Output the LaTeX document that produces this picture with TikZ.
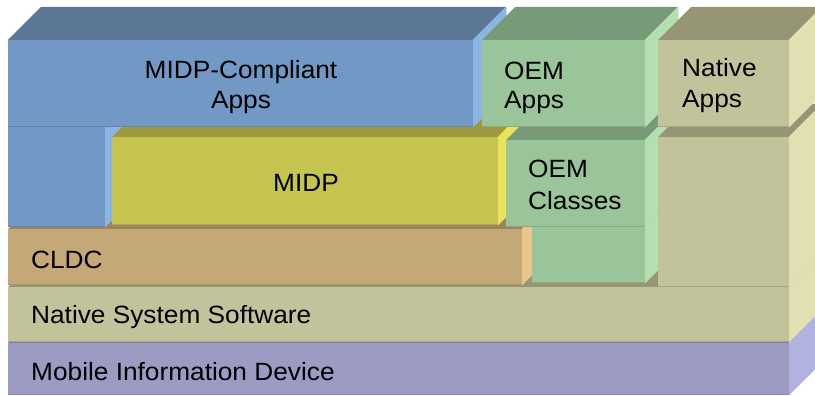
\documentclass[tikz,border=0pt]{standalone}
\usepackage{fontspec}
\setmainfont{Liberation Sans}[FakeStretch=1.05]
\definecolor{bluF}{HTML}{7299C5}\definecolor{bluT}{HTML}{5B7795}\definecolor{bluS}{HTML}{8CB4E1}
\definecolor{grnF}{HTML}{9AC49A}\definecolor{grnT}{HTML}{789A78}\definecolor{grnS}{HTML}{B3DFB3}
\definecolor{khaF}{HTML}{C3C39B}\definecolor{khaT}{HTML}{979674}\definecolor{khaS}{HTML}{E2DFB2}
\definecolor{yelF}{HTML}{C5C44E}\definecolor{yelT}{HTML}{9B9A3F}\definecolor{yelS}{HTML}{E8E35A}
\definecolor{brnF}{HTML}{C4A878}\definecolor{brnT}{HTML}{9A855F}\definecolor{brnS}{HTML}{E8C68E}
\definecolor{purF}{HTML}{9B9BC4}\definecolor{purT}{HTML}{7A7A9E}\definecolor{purS}{HTML}{B2B2E1}
% x1 y1 x2 y2 colour-prefix
\newcommand\cubeblk[5]{%
  \fill[#5T] (#1,#2) -- (#1+33,#2-33) -- (#3+33,#2-33) -- (#3,#2) -- cycle;
  \filldraw[fill=#5S, draw=#5S, line width=0.6] (#3,#2) -- (#3+33,#2-33) -- (#3+33,#4-33) -- (#3,#4) -- cycle;
  \fill[#5F] (#1,#2) rectangle (#3,#4);
  \draw[#5T!60!#5F, line width=1.2] (#1,#4-0.6) -- (#3,#4-0.6);
}
\tikzset{lbl/.style={font=\fontsize{25}{30}\selectfont, inner sep=0pt, text=black}}
\begin{document}
\begin{tikzpicture}[x=1pt,y=-1pt]
\useasboundingbox (0,0) rectangle (815,396);
\clip (0,0) rectangle (815,396);
\fill[white] (0,0) rectangle (815,396);
% row: Mobile Information Device
\cubeblk{8}{343}{789}{395}{pur}
% Native System Software
\cubeblk{8}{287}{789}{342}{kha}
% CLDC and lower OEM part
\cubeblk{8}{229}{522}{285}{brn}
\cubeblk{532}{227}{645}{283}{grn}
% middle row
\cubeblk{8}{127}{105}{227}{blu}
\cubeblk{112}{137}{498}{225}{yel}
\cubeblk{506}{140}{645}{227}{grn}
\cubeblk{658}{137}{789}{287}{kha}
% top row
\cubeblk{8}{40}{473}{127}{blu}
\cubeblk{482}{40}{645}{127}{grn}
\cubeblk{658}{40}{789}{127}{kha}
% labels
\node[lbl, anchor=base] (mca1) at (241,79) {MIDP-Compliant};
\node[lbl, anchor=base] (mca2) at (241,109) {Apps};
\node[lbl, anchor=base west] (oema1) at (504,80) {OEM};
\node[lbl, anchor=base west] (oema2) at (504,109) {Apps};
\node[lbl, anchor=base west] (nata1) at (682,77) {Native};
\node[lbl, anchor=base west] (nata2) at (682,108) {Apps};
\node[lbl, anchor=base] (midp) at (306,191) {MIDP};
\node[lbl, anchor=base west] (oemc1) at (528,177) {OEM};
\node[lbl, anchor=base west] (oemc2) at (528,209) {Classes};
\node[lbl, anchor=base west] (cldc) at (31,268) {CLDC};
\node[lbl, anchor=base west] (nss) at (31,323) {Native System Software};
\node[lbl, anchor=base west] (mid) at (31,380) {Mobile Information Device};
\end{tikzpicture}
\end{document}
